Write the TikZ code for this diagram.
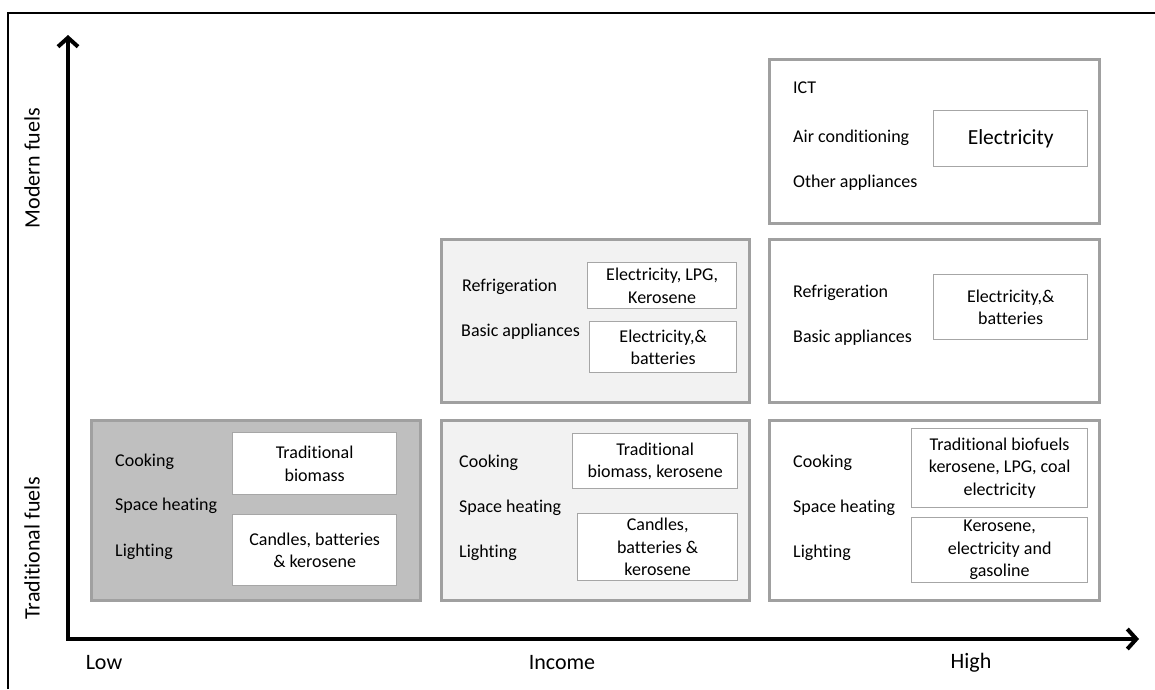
\documentclass[tikz,border=0pt]{standalone}
\usepackage{fontspec}
\setmainfont{Carlito}[Ligatures=NoCommon]
\usetikzlibrary{arrows.meta}
\definecolor{boxline}{HTML}{A0A0A0}
\definecolor{fuelline}{HTML}{A6A6A6}
\definecolor{darkfill}{HTML}{BFBFBF}
\definecolor{lightfill}{HTML}{F2F2F2}
\begin{document}
\begin{tikzpicture}[x=1pt,y=-1pt,
  every node/.style={font=\fontsize{18}{22.5}\selectfont},
  axislabel/.style={font=\fontsize{22}{26}\selectfont},
  sector/.style={draw=boxline, line width=3pt, inner sep=0pt, anchor=north west},
  fuel/.style={draw=fuelline, line width=1.3pt, fill=white, inner sep=0pt, anchor=north west, align=center},
  use/.style={inner sep=0pt, anchor=west},
  axis/.style={line width=4pt, {Straight Barb[length=9pt,width=20pt]}-{Straight Barb[length=9pt,width=20pt]}}]
\useasboundingbox (0,0) rectangle (1155,689);
\draw[line width=2pt] (8,689) -- (8,13) -- (1155,13);
\coordinate (origin) at (68,639);
\coordinate (ytip) at (68,35);
\coordinate (xtip) at (1139,639);
\draw[axis] (ytip) -- (origin) -- (xtip);
\node[axislabel] (low) at (104,663) {Low};
\node[axislabel] (income) at (562,663) {Income};
\node[axislabel] (high) at (971,663) {High};
\node[axislabel, rotate=90] (modern) at (32,168) {Modern fuels};
\node[axislabel, rotate=90] (traditional) at (32,548) {Traditional fuels};

\node[sector, fill=darkfill, minimum width=329pt, minimum height=180pt] (lowbox) at (90,419) {};
\node[fuel, minimum width=164pt, minimum height=62pt] (lowcook) at (232,432) {Traditional\\biomass};
\node[fuel, minimum width=164pt, minimum height=71pt] (lowlight) at (232,514) {Candles, batteries\\\& kerosene};
\node[use] (lowa) at (115,462) {Cooking};
\node[use] (lowb) at (115,506) {Space heating};
\node[use] (lowc) at (115,552) {Lighting};

\node[sector, fill=lightfill, minimum width=308pt, minimum height=180pt] (midbox) at (440,419) {};
\node[fuel, minimum width=165pt, minimum height=55pt] (midcook) at (572,433) {Traditional\\biomass, kerosene};
\node[fuel, minimum width=160pt, minimum height=67pt] (midlight) at (577,513) {Candles,\\batteries \&\\kerosene};
\node[use] (mida) at (459,463) {Cooking};
\node[use] (midb) at (459,508) {Space heating};
\node[use] (midc) at (459,553) {Lighting};

\node[sector, fill=lightfill, minimum width=308pt, minimum height=163pt] (upbox) at (440,238) {};
\node[fuel, minimum width=149pt, minimum height=46pt] (upfridge) at (587,262) {Electricity, LPG,\\Kerosene};
\node[fuel, minimum width=147pt, minimum height=51pt] (upbasic) at (589,321) {Electricity,\&\\batteries};
\node[use] (upa) at (462,287) {Refrigeration};
\node[use] (upb) at (461,332) {Basic appliances};

\node[sector, fill=white, minimum width=330pt, minimum height=180pt] (highbox) at (768,419) {};
\node[fuel, minimum width=176pt, minimum height=79pt] (highcook) at (911,428) {Traditional biofuels\\kerosene, LPG, coal\\electricity};
\node[fuel, minimum width=176pt, minimum height=65pt] (highlight) at (911,517) {Kerosene,\\electricity and\\gasoline};
\node[use] (higha) at (793,463) {Cooking};
\node[use] (highb) at (793,508) {Space heating};
\node[use] (highc) at (793,553) {Lighting};

\node[sector, fill=white, minimum width=330pt, minimum height=163pt] (applbox) at (768,238) {};
\node[fuel, minimum width=154pt, minimum height=65pt] (applfuel) at (933,274) {Electricity,\&\\batteries};
\node[use] (appla) at (793,293) {Refrigeration};
\node[use] (applb) at (793,338) {Basic appliances};

\node[sector, fill=white, minimum width=330pt, minimum height=164pt] (topbox) at (768,58) {};
\node[fuel, minimum width=154pt, minimum height=56pt, font=\fontsize{21.5}{25}\selectfont] (topfuel) at (933,110) {Electricity};
\node[use] (topa) at (793,88) {ICT};
\node[use] (topb) at (793,138) {Air conditioning};
\node[use] (topc) at (793,183) {Other appliances};
\end{tikzpicture}
\end{document}
